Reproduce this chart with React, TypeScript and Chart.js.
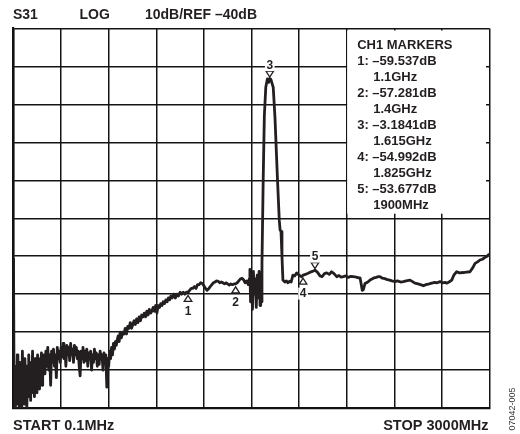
import React, { useEffect, useRef } from 'react';
import { Chart, registerables } from 'chart.js';

Chart.register(...registerables);

// ---------- data ----------
const FREQ_MHZ: number[] = [
  0.1, 4, 8, 12, 16, 20, 24, 28, 32, 36, 40, 44, 48, 52, 56, 60, 64, 68, 72, 76, 80, 84, 88, 92, 96, 100, 104, 108, 112, 116,
  120, 124, 128, 132, 136, 140, 144, 148, 152, 156, 160, 164, 168, 172, 176, 180, 184, 188,
  192, 198, 204, 210, 216, 222, 228, 234, 240, 246, 252, 258, 264, 270, 276, 282, 288,
  294, 300, 306, 312, 318, 324, 330, 336, 342, 348, 354, 360, 366, 372, 378, 384, 390, 396, 402, 408, 414, 420, 426, 432, 438,
  444, 450, 456, 462, 468, 474, 480, 486, 492, 498, 504, 510, 516, 522, 528, 534, 540, 546, 552, 558, 564, 570, 576, 582, 588, 594, 600,
  606, 612, 618, 624, 630, 636, 642, 648, 654, 660, 666, 672, 680, 688, 696, 704, 712, 720, 728, 736, 744, 752, 760, 768, 776, 784, 792,
  800, 808, 816, 824, 832, 840, 848, 856, 864, 872, 880, 888, 896, 904, 912, 920, 928, 936, 944, 952, 960, 968, 976, 984, 992,
  1000, 1010, 1020, 1030, 1040, 1050, 1060, 1070, 1080, 1090, 1100, 1110, 1120, 1130, 1140, 1150, 1160, 1170, 1180, 1190,
  1200, 1210, 1220, 1230, 1240, 1250, 1260, 1270, 1280, 1290, 1300, 1310, 1320, 1330, 1340, 1350, 1360, 1370, 1380, 1390,
  1400, 1410, 1420, 1430, 1440, 1450, 1460, 1470, 1480,
  1486, 1490, 1494, 1500, 1506, 1512, 1518, 1524, 1530, 1536, 1542, 1548, 1554, 1558, 1562,
  1566, 1574, 1581, 1590, 1600, 1608, 1615, 1622, 1637, 1648, 1663, 1675, 1680, 1686, 1692, 1698,
  1710, 1720, 1730, 1740, 1750, 1761, 1772, 1785, 1800, 1816, 1825, 1840, 1856, 1870, 1885, 1900, 1915, 1932, 1945, 1960, 1974, 1990,
  2005, 2020, 2037, 2050, 2065, 2079, 2095, 2110, 2125, 2142, 2160, 2175, 2184, 2192, 2198, 2205, 2215, 2225, 2236, 2250, 2268, 2285,
  2300, 2310, 2325, 2340, 2352, 2370, 2385, 2404, 2420, 2440, 2457, 2475, 2499, 2515, 2530, 2550, 2565, 2583, 2600, 2620, 2636, 2655,
  2670, 2688, 2705, 2720, 2730, 2745, 2762, 2775, 2793, 2810, 2835, 2855, 2877, 2895, 2909, 2925, 2940, 2955, 2972, 2985, 2992, 3000,
];

const TRACE_DB: number[] = [
  -50.5, -89, -79, -90, -83, -88, -76, -89, -81, -90, -78, -87, -84, -90, -75, -86, -80, -89, -77, -85, -79, -90, -82, -87, -76, -86, -80, -88, -78, -84,
  -75, -86, -79, -87, -77, -83, -80, -86, -76, -82, -78, -85, -77, -81, -75.5, -84, -78, -80,
  -76, -81, -75, -79, -74, -80, -76, -84, -75, -78, -74.5, -79, -76, -82, -74, -77, -75,
  -78, -74, -76.5, -73, -77, -74, -79, -73.5, -76, -74, -77.5, -73, -76, -74.5, -78, -73.5, -76, -74, -77, -75, -79, -81.5, -75, -77, -74,
  -78, -75, -77.5, -74.5, -79, -75.5, -77, -75, -80, -76, -78, -74.5, -77, -75.5, -79, -76, -78.5, -75, -77, -76, -80, -75.5, -78, -76, -84.5, -77, -79,
  -75, -77, -74, -76, -73, -74.5, -72.5, -73.5, -72, -71, -72.5, -70, -71.5, -70, -70.5, -69, -70.5, -68.5, -69, -67.5, -69, -68, -67, -68, -66.5, -67.5, -66,
  -67, -65.5, -66, -65, -66, -64.5, -65.5, -64, -65, -64.5, -63.5, -64.5, -63, -65, -63, -63.5, -62.5, -63, -62, -62.5, -61.5, -62, -61, -61.5, -60.5,
  -61, -60, -61, -60, -60.5, -59.5, -60, -59.5, -60, -59.5, -59.537, -59, -58.5, -58.5, -58, -58.5, -57.5, -57.5, -57, -57.2,
  -57.8, -58.5, -59, -58.6, -58, -57.5, -57, -56.8, -56.5, -56.6, -57, -56.8, -57, -57.3, -57, -57.3, -57.6, -57.3, -57.5, -57.3,
  -57.281, -57, -56.5, -56, -55.8, -56.2, -57, -56.5, -57.5,
  -56, -53.5, -62, -55, -64, -54, -60, -56, -63.5, -55, -61, -54, -63, -58, -62,
  -52, -29, -13, -5.5, -3.3, -4.2, -3.1841, -3.4, -5.5, -13.5, -29, -40.5, -43, -43.5, -50, -56.3,
  -56.8, -56.5, -57, -56.6, -56.8, -55, -55.2, -54.4, -55, -55.4, -54.992, -54.8, -54.5, -54.2, -54, -53.677, -54.2, -55.2, -55.4, -54.6, -54.4, -54.8,
  -54.1, -54.6, -55.4, -55.1, -55.5, -55.4, -55.2, -55.6, -55.3, -55.4, -55.5, -55.7, -55.7, -57.5, -59, -58.8, -57.2, -57, -56.7, -56.2, -55.8, -55.6,
  -55.4, -55.4, -55.8, -55.9, -56.1, -56.3, -56.5, -56.7, -56.5, -56.8, -56.7, -56.5, -56.3, -56.7, -57.1, -57.3, -57.5, -57.8, -57.5, -57.3, -57.1, -56.9,
  -57, -56.7, -57, -56.9, -57.1, -56.8, -56.3, -55, -54.1, -54.4, -54.3, -54.2, -54.1, -53, -51.9, -51.5, -51, -50.8, -50.3, -50, -49.7, -49.5,
];

const MARKER_IDS = ['1', '2', '3', '4', '5'];
const MARKER_FREQ_MHZ = [1100, 1400, 1615, 1825, 1900];
const MARKER_DB = [-59.537, -57.281, -3.1841, -54.992, -53.677];
const MARKER_POINTS_DOWN = [false, false, true, false, true];

const MARKER_TEXT = [
  'CH1 MARKERS',
  '1: –59.537dB',
  '1.1GHz',
  '2: –57.281dB',
  '1.4GHz',
  '3: –3.1841dB',
  '1.615GHz',
  '4: –54.992dB',
  '1.825GHz',
  '5: –53.677dB',
  '1900MHz',
];
const MARKER_TEXT_INDENT = [false, false, true, false, true, false, true, false, true, false, true];

const HEADER_ITEMS = ['S31', 'LOG', '10dB/REF –40dB'];
const FOOTER_LEFT = 'START 0.1MHz';
const FOOTER_RIGHT = 'STOP 3000MHz';
const FIGURE_ID = '07042-005';

const X_MIN = 0;
const X_MAX = 3000;
const X_STEP = 300;
const Y_MIN = -90;
const Y_MAX = 10;
const Y_STEP = 10;

const INK = '#231f20';
const BOLD = (px: number) => `bold ${px}px "Liberation Sans", Arial, Helvetica, sans-serif`;

export default function App() {
  const ref = useRef<HTMLCanvasElement | null>(null);

  useEffect(() => {
    const canvas = ref.current;
    if (!canvas) return;

    const boxPlugin = {
      id: 'markerBox',
      beforeDatasetsDraw(chart: any) {
        const { ctx, chartArea } = chart;
        ctx.save();
        ctx.fillStyle = '#ffffff';
        const left = chartArea.left + (chartArea.right - chartArea.left) * 0.701;
        const right = chartArea.right - 3.5;
        const top = chartArea.top + 2;
        const bottom = chartArea.top + (chartArea.bottom - chartArea.top) * 0.488;
        ctx.fillRect(left, top, right - left, bottom - top);
        ctx.fillStyle = INK;
        ctx.font = BOLD(13);
        ctx.textBaseline = 'middle';
        ctx.textAlign = 'left';
        MARKER_TEXT.forEach((t, i) => {
          const x = left + 10 + (MARKER_TEXT_INDENT[i] ? 16 : 0);
          const y = top + 15 + i * 16;
          ctx.fillText(t, x, y);
        });
        ctx.restore();
      },
    };

    const markerPlugin = {
      id: 'markers',
      afterDatasetsDraw(chart: any) {
        const { ctx } = chart;
        const xs = chart.scales.x;
        const ys = chart.scales.y;
        ctx.save();
        MARKER_IDS.forEach((id, i) => {
          const px = xs.getPixelForValue(MARKER_FREQ_MHZ[i]);
          const py = ys.getPixelForValue(MARKER_DB[i]);
          const down = MARKER_POINTS_DOWN[i];
          ctx.beginPath();
          if (down) {
            ctx.moveTo(px - 3.8, py - 7.5);
            ctx.lineTo(px + 3.8, py - 7.5);
            ctx.lineTo(px, py - 1.5);
          } else {
            ctx.moveTo(px - 3.8, py + 9);
            ctx.lineTo(px + 3.8, py + 9);
            ctx.lineTo(px, py + 3);
          }
          ctx.closePath();
          ctx.fillStyle = '#ffffff';
          ctx.fill();
          ctx.lineWidth = 1.3;
          ctx.strokeStyle = INK;
          ctx.stroke();
          ctx.font = BOLD(12);
          ctx.textAlign = 'center';
          ctx.textBaseline = 'middle';
          const ty = down ? py - 13.5 : py + 18.5;
          const w = ctx.measureText(id).width;
          ctx.fillStyle = '#ffffff';
          ctx.fillRect(px - w / 2 - 1.5, ty - 6, w + 3, 12);
          ctx.fillStyle = INK;
          ctx.fillText(id, px, ty + 0.5);
        });
        ctx.restore();
      },
    };

    const textPlugin = {
      id: 'frameText',
      afterDraw(chart: any) {
        const { ctx, chartArea } = chart;
        ctx.save();
        ctx.fillStyle = INK;
        ctx.font = BOLD(14);
        ctx.textBaseline = 'middle';
        ctx.textAlign = 'left';
        const headerX = [chartArea.left - 0.5, chartArea.left + 66, chartArea.left + 131.5];
        HEADER_ITEMS.forEach((t, i) => ctx.fillText(t, headerX[i], 15.5));
        ctx.font = BOLD(14.5);
        ctx.fillText(FOOTER_LEFT, chartArea.left - 0.5, 426);
        ctx.textAlign = 'right';
        ctx.fillText(FOOTER_RIGHT, chartArea.right - 1, 426);
        ctx.translate(512.5, 409);
        ctx.rotate(-Math.PI / 2);
        ctx.textAlign = 'center';
        ctx.font = '9px "Liberation Sans", Arial, sans-serif';
        ctx.fillStyle = '#3a3a3a';
        ctx.fillText(FIGURE_ID, 0, 0);
        ctx.restore();
      },
    };

    const chart = new Chart(canvas, {
      type: 'line',
      data: {
        datasets: [
          {
            data: FREQ_MHZ.map((f, i) => ({ x: f, y: TRACE_DB[i] })),
            borderColor: INK,
            borderWidth: 2.8,
            pointRadius: 0,
            tension: 0,
            fill: false,
            borderJoinStyle: 'round',
          },
        ],
      },
      options: {
        responsive: false,
        animation: false,
        devicePixelRatio: 1,
        layout: { padding: { left: 13.5, right: 30.5, top: 28.5, bottom: 26 } },
        plugins: { legend: { display: false }, tooltip: { enabled: false } },
        scales: {
          x: {
            type: 'linear',
            min: X_MIN,
            max: X_MAX,
            ticks: { display: false, stepSize: X_STEP },
            grid: { color: '#141414', lineWidth: 1.5, drawTicks: false },
            border: { color: '#111111', width: 2.2 },
          },
          y: {
            min: Y_MIN,
            max: Y_MAX,
            ticks: { display: false, stepSize: Y_STEP },
            grid: { color: '#141414', lineWidth: 1.5, drawTicks: false },
            border: { color: '#111111', width: 2.2 },
          },
        },
      },
      plugins: [boxPlugin, markerPlugin, textPlugin],
    } as any);

    return () => chart.destroy();
  }, []);

  return (
    <div style={{ position: 'fixed', left: 0, top: 0, width: 520, height: 434, background: '#ffffff' }}>
      <canvas ref={ref} width={520} height={434} style={{ display: 'block', width: 520, height: 434 }} />
    </div>
  );
}
